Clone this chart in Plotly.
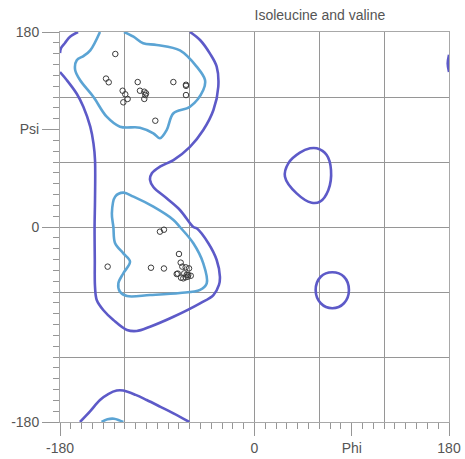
import plotly.graph_objects as go

# ---------------- data ----------------
TITLE = "Isoleucine and valine"
TICK_VALS = [-180, 0, 90, 180]
X_TICK_TEXT = ["-180", "0", "Phi", "180"]
Y_TICK_TEXT = ["-180", "0", "Psi", "180"]
GRID_VALS = [-120, -60, 60, 120]

# observed residues (phi, psi)
PHI = [-128.8, -137.4, -134.9, -122.0, -119.6, -117.4, -121.4, -108.1, -106.0, -102.0,
       -100.4, -101.0, -102.0, -75.1, -63.4, -63.4, -63.4, -91.8,
       -87.5, -83.8, -69.9, -68.3, -66.8, -63.7, -60.6, -72.0, -71.0, -65.0, -62.7,
       -61.3, -59.0, -65.9, -68.0, -63.7, -61.8, -135.9, -95.8, -83.8]
PSI = [159.7, 137.0, 133.6, 125.8, 122.5, 118.2, 115.1, 133.8, 125.8, 124.9,
       123.4, 121.8, 118.2, 133.8, 131.3, 130.3, 121.8, 98.1,
       -4.3, -2.5, -24.9, -32.9, -36.6, -37.2, -38.2, -43.4, -43.0, -42.8, -44.0,
       -44.3, -45.0, -47.4, -46.8, -46.4, -45.9, -36.6, -37.6, -38.3]

# outer ("allowed") contour pieces
OUT_A_PHI = [-163.3, -170.7, -175.4, -179.0, -180.0]
OUT_A_PSI = [180.0, 175.7, 169.9, 165.2, 160.6]

OUT_B_PHI = [-180.0, -173.8, -164.5, -158.4, -152.0, -149.0, -147.6, -147.6, -148.0, -147.8,
             -147.6, -146.0, -140.0, -130.6, -118.0, -109.0, -96.7, -75.0, -50.4, -38.0,
             -32.9, -32.0, -35.0, -42.7, -53.5, -56.6, -69.0, -81.3, -93.6, -96.7, -95.0,
             -87.5, -75.0, -59.7, -47.4, -38.0, -33.5, -35.0, -41.2, -50.4, -59.7]
OUT_B_PSI = [143.0, 135.7, 123.0, 111.0, 92.6, 77.0, 61.8, 25.0, 0.0, -30.0,
             -55.0, -67.4, -76.6, -85.8, -95.0, -96.0, -92.0, -82.8, -70.4, -62.8,
             -53.5, -45.9, -30.5, -15.0, -1.2, 0.0, 15.7, 26.5, 37.0, 43.4, 49.6,
             55.7, 61.8, 74.0, 89.5, 108.0, 129.5, 148.0, 160.0, 172.6, 180.0]

OUT_C_PHI = [-161.5, -152.0, -143.0, -135.0, -127.5, -121.4, -110.0, -99.8, -87.0, -75.0, -60.3]
OUT_C_PSI = [-180.0, -170.0, -159.7, -154.0, -151.0, -151.0, -155.0, -159.7, -166.0, -172.0, -180.0]

OUT_D_PHI = [57.6, 66.8, 70.8, 68.3, 60.6, 52.9, 39.0, 28.2, 31.3, 42.0, 51.4, 57.6]
OUT_D_PSI = [72.6, 66.5, 52.6, 34.0, 23.4, 22.4, 31.0, 46.4, 58.8, 68.6, 72.6, 72.6]

OUT_E_PHI = [72.0, 82.8, 87.4, 82.8, 72.0, 61.3, 56.6, 61.3, 72.0]
OUT_E_PSI = [-41.8, -45.9, -58.2, -70.4, -75.0, -70.4, -58.2, -45.9, -41.8]

OUT_F_PHI = [180.0, 178.8, 180.0]
OUT_F_PSI = [159.0, 151.0, 143.0]

# inner ("favoured") contour pieces
IN_A_PHI = [-143.0, -152.0, -158.0, -164.5, -166.0, -161.5, -149.0, -136.8, -124.5, -106.0,
            -93.6, -87.5, -81.3, -75.0, -59.7, -47.4, -45.8, -53.5, -69.0, -90.5,
            -103.0, -112.0, -120.8]
IN_A_PSI = [180.0, 163.0, 158.0, 154.0, 145.0, 135.7, 120.0, 101.8, 92.6, 91.7,
            86.5, 81.9, 89.5, 105.0, 111.0, 126.5, 135.7, 148.0, 163.0, 168.0,
            169.6, 175.7, 180.0]

IN_B_PHI = [-141.5, -136.0, -130.0, -125.0, -121.4]
IN_B_PSI = [-180.0, -177.5, -177.0, -178.5, -180.0]

IN_C_PHI = [-130.6, -132.0, -129.0, -121.4, -112.0, -93.6, -75.0, -69.0, -56.6, -47.4,
            -44.2, -50.4, -69.0, -96.7, -118.0, -124.5, -126.0, -121.4, -115.2, -121.4,
            -129.0, -130.6]
IN_C_PSI = [0.0, 12.6, 28.0, 31.7, 28.0, 18.7, 6.5, 0.0, -15.0, -33.5,
            -52.0, -58.0, -61.0, -62.8, -63.7, -59.7, -52.0, -42.7, -32.0, -24.3,
            -15.0, 0.0]

OUTER = [(OUT_A_PHI, OUT_A_PSI), (OUT_B_PHI, OUT_B_PSI), (OUT_C_PHI, OUT_C_PSI),
         (OUT_D_PHI, OUT_D_PSI), (OUT_E_PHI, OUT_E_PSI), (OUT_F_PHI, OUT_F_PSI)]
INNER = [(IN_A_PHI, IN_A_PSI), (IN_B_PHI, IN_B_PSI), (IN_C_PHI, IN_C_PSI)]

# ---------------- styles ----------------
OUTER_COLOR = "#5d5ac8"
INNER_COLOR = "#5ba4d4"
GRID_COLOR = "#969696"
TEXT_COLOR = "#555555"
FONT = "Liberation Sans, Arial, sans-serif"

fig = go.Figure()
for xs, ys in OUTER:
    fig.add_trace(go.Scatter(x=xs, y=ys, mode="lines",
                             line=dict(color=OUTER_COLOR, width=2.6, shape="spline", smoothing=1.0),
                             hoverinfo="skip", showlegend=False))
for xs, ys in INNER:
    fig.add_trace(go.Scatter(x=xs, y=ys, mode="lines",
                             line=dict(color=INNER_COLOR, width=2.6, shape="spline", smoothing=1.0),
                             hoverinfo="skip", showlegend=False))
# residues drawn on the overlay axes (same ranges) so the 10-degree tick axes render
fig.add_trace(go.Scatter(x=PHI, y=PSI, mode="markers", xaxis="x2", yaxis="y2",
                         marker=dict(symbol="circle-open", size=5.5, color="#3c3c3c",
                                     line=dict(width=1, color="#3c3c3c")),
                         showlegend=False))

common = dict(range=[-180, 180], tickmode="array", tickvals=TICK_VALS,
              ticks="outside", tickcolor=GRID_COLOR, tickwidth=1,
              showgrid=False, zeroline=True, zerolinecolor=GRID_COLOR, zerolinewidth=1,
              showline=True, linecolor="#a8a8a8", linewidth=1, mirror=True,
              tickfont=dict(size=14, color=TEXT_COLOR, family=FONT),
              minor=dict(tickmode="array", tickvals=GRID_VALS, showgrid=True,
                         gridcolor=GRID_COLOR, gridwidth=1, ticks=""),
              automargin=False, fixedrange=True)

minor_ticks = dict(range=[-180, 180], tickmode="linear", tick0=-180, dtick=10,
                   ticks="outside", ticklen=6, tickcolor=GRID_COLOR, tickwidth=1,
                   showticklabels=False, showgrid=False, zeroline=False, showline=False,
                   automargin=False, fixedrange=True)

fig.update_layout(
    width=465, height=459, autosize=False,
    margin=dict(l=60, r=16, t=32, b=37),
    paper_bgcolor="white", plot_bgcolor="white",
    font=dict(family=FONT, color=TEXT_COLOR, size=14),
    title=dict(text=TITLE, x=0.688, xref="container", xanchor="center",
               y=0.967, yref="container", yanchor="middle",
               font=dict(size=14, color=TEXT_COLOR, family=FONT)),
    xaxis=dict(ticktext=X_TICK_TEXT, ticklen=13, **common),
    yaxis=dict(ticktext=Y_TICK_TEXT, ticklen=17, **common),
    xaxis2=dict(overlaying="x", anchor="y2", side="bottom", **minor_ticks),
    yaxis2=dict(overlaying="y", anchor="x2", side="left", **minor_ticks),
)

fig.write_html("out.html")
